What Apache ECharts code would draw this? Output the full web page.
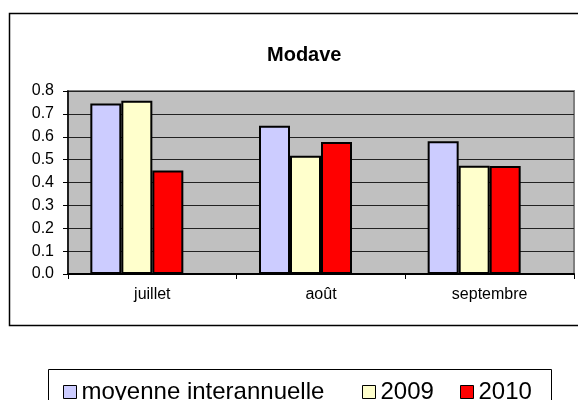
<!DOCTYPE html>
<html>
<head>
<meta charset="utf-8">
<script src="https://cdn.jsdelivr.net/npm/echarts@6/dist/echarts.min.js"></script>
<style>
  html, body { margin: 0; padding: 0; background: #fff; }
  #chart { width: 578px; height: 400px; }
</style>
</head>
<body>
<div id="chart"></div>
<script>
var months = ['juillet', 'août', 'septembre']
var moyenne = [0.745, 0.648, 0.58]
var an2009 = [0.757, 0.517, 0.473]
var an2010 = [0.453, 0.577, 0.472]
// empty 4th slot, Excel keeps room for it
var vide = [null, null, null]
var yTicks = [0, 0.1, 0.2, 0.3, 0.4, 0.5, 0.6, 0.7, 0.8]

var font = 'Liberation Sans, Arial, sans-serif'

function bar (name, data, color) {
  return {
    name: name,
    type: 'bar',
    data: data,
    barWidth: 31,
    barGap: '0%',
    itemStyle: { color: color, borderColor: '#000', borderWidth: 2 }
  }
}

function legendAt (name, left) {
  return {
    data: [name],
    left: left,
    top: 375,
    itemWidth: 13,
    itemHeight: 13,
    icon: 'rect',
    itemStyle: { borderColor: '#000', borderWidth: 1 },
    textStyle: { fontFamily: font, fontSize: 24, color: '#000' },
    selectedMode: false
  }
}

var chart = echarts.init(document.getElementById('chart'))
chart.setOption({
  animation: false,
  backgroundColor: '#fff',
  title: {
    text: 'Modave',
    left: 262,
    top: 40,
    textStyle: { fontFamily: font, fontSize: 20, fontWeight: 'bold', color: '#000' }
  },
  graphic: [
    {
      type: 'rect',
      shape: { x: 9.5, y: 13.5, width: 600, height: 312 },
      style: { fill: null, stroke: '#000', lineWidth: 1.5 },
      silent: true
    },
    {
      type: 'rect',
      shape: { x: 48.5, y: 369.5, width: 503, height: 40 },
      style: { fill: null, stroke: '#000', lineWidth: 1 },
      silent: true
    }
  ],
  legend: [
    legendAt('moyenne interannuelle', 58),
    legendAt('2009', 357),
    legendAt('2010', 455)
  ],
  grid: {
    left: 68,
    top: 91,
    right: 4,
    bottom: 126,
    show: true,
    backgroundColor: '#c0c0c0',
    borderColor: '#808080',
    borderWidth: 2
  },
  xAxis: {
    type: 'category',
    data: months,
    axisLine: { lineStyle: { color: '#000', width: 2 } },
    axisTick: { show: true, length: 5, lineStyle: { color: '#000' } },
    axisLabel: { margin: 13, fontFamily: font, fontSize: 16, color: '#000' }
  },
  yAxis: {
    type: 'value',
    min: yTicks[0],
    max: yTicks[yTicks.length - 1],
    interval: 0.1,
    axisLine: { show: true, lineStyle: { color: '#000', width: 1.5 } },
    axisTick: { show: true, length: 5, lineStyle: { color: '#000' } },
    axisLabel: {
      margin: 14,
      fontFamily: font,
      fontSize: 16,
      color: '#000',
      formatter: function (v) { return v.toFixed(1) }
    },
    splitLine: { show: true, lineStyle: { color: '#222', width: 1 } }
  },
  series: [
    bar('moyenne interannuelle', moyenne, '#ccccff'),
    bar('2009', an2009, '#ffffcc'),
    bar('2010', an2010, '#ff0000'),
    bar('', vide, '#ffffff')
  ]
})
</script>
</body>
</html>
